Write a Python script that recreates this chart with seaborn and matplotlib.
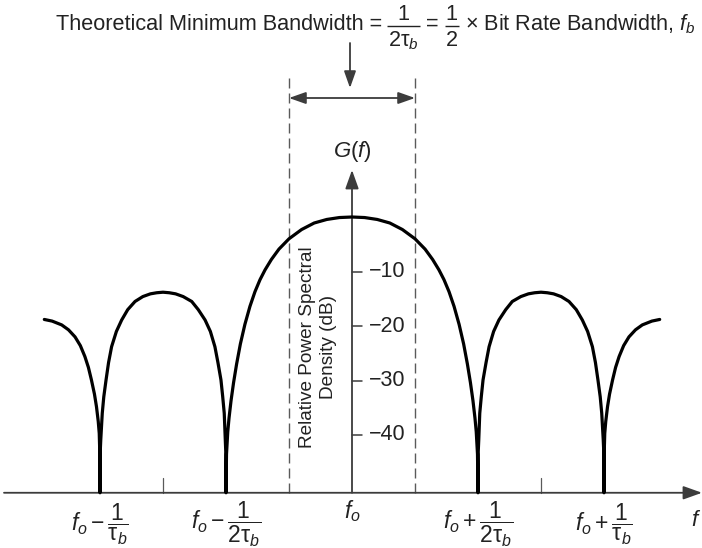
import matplotlib
matplotlib.use("Agg")
import matplotlib.pyplot as plt
import seaborn as sns
import pandas as pd

# ---------------- data ----------------
# frequency offset from f_o, in units of 1/tau_b
freq_offset = [
    -1.221, -1.190, -1.152, -1.125, -1.099, -1.078, -1.060, -1.046, -1.034,
    -1.022, -1.014, -1.007, -1.003, -1.001, -1.000,
    -0.999, -0.997, -0.991, -0.985, -0.976, -0.966, -0.954, -0.935, -0.914,
    -0.890, -0.861, -0.830, -0.800, -0.775, -0.750, -0.725, -0.700, -0.670,
    -0.636, -0.610, -0.583, -0.562, -0.544, -0.532, -0.520, -0.513, -0.507,
    -0.503, -0.501, -0.500,
    -0.498, -0.493, -0.488, -0.480, -0.470, -0.458, -0.443, -0.425, -0.405,
    -0.385, -0.365, -0.345, -0.320, -0.290, -0.250, -0.200, -0.150, -0.100,
    -0.050, 0.000,
    0.050, 0.100, 0.150, 0.200, 0.250, 0.290, 0.320, 0.345, 0.365,
    0.385, 0.405, 0.425, 0.443, 0.458, 0.470, 0.480, 0.488, 0.493,
    0.498,
    0.500, 0.501, 0.503, 0.507, 0.513, 0.520, 0.532, 0.544, 0.562,
    0.583, 0.610, 0.636, 0.670, 0.700, 0.725, 0.750, 0.775, 0.800,
    0.830, 0.861, 0.890, 0.914, 0.935, 0.954, 0.966, 0.976, 0.985,
    0.991, 0.997, 0.999,
    1.000, 1.001, 1.003, 1.007, 1.014, 1.022, 1.034, 1.046, 1.060,
    1.078, 1.099, 1.125, 1.152, 1.190, 1.221,
]
# relative power spectral density, dB
psd_db = [
    -18.8, -19.1, -19.8, -20.7, -22.0, -23.6, -25.6, -27.6, -29.9,
    -32.5, -34.8, -37.5, -39.7, -43.0, -50.6,
    -43.0, -40.9, -36.0, -33.0, -29.9, -26.7, -23.8, -21.0, -18.9,
    -17.0, -15.5, -14.6, -14.1, -13.9, -13.8, -13.9, -14.1, -14.6,
    -15.5, -17.0, -18.9, -21.0, -23.8, -26.7, -29.9, -33.0, -36.0,
    -40.9, -43.0, -50.6,
    -43.5, -39.4, -36.9, -33.7, -30.4, -27.0, -23.3, -19.7, -16.4,
    -13.7, -11.5, -9.7, -7.8, -5.9, -4.0, -2.3, -1.1, -0.45,
    -0.1, 0.0,
    -0.1, -0.45, -1.1, -2.3, -4.0, -5.9, -7.8, -9.7, -11.5,
    -13.7, -16.4, -19.7, -23.3, -27.0, -30.4, -33.7, -36.9, -39.4,
    -43.5,
    -50.6, -43.0, -40.9, -36.0, -33.0, -29.9, -26.7, -23.8, -21.0,
    -18.9, -17.0, -15.5, -14.6, -14.1, -13.9, -13.8, -13.9, -14.1,
    -14.6, -15.5, -17.0, -18.9, -21.0, -23.8, -26.7, -29.9, -33.0,
    -36.0, -40.9, -43.0,
    -50.6, -43.0, -39.7, -37.5, -34.8, -32.5, -29.9, -27.6, -25.6,
    -23.6, -22.0, -20.7, -19.8, -19.1, -18.8,
]
db_ticks = [-10, -20, -30, -40]
db_tick_labels = ["\u221210", "\u221220", "\u221230", "\u221240"]
freq_ticks = [-1.0, -0.5, 0.0, 0.5, 1.0]
freq_tick_labels = [
    r"$f_o - \dfrac{1}{\mathrm{\tau}_b}$",
    r"$f_o - \dfrac{1}{2\mathrm{\tau}_b}$",
    r"$f_o$",
    r"$f_o + \dfrac{1}{2\mathrm{\tau}_b}$",
    r"$f_o + \dfrac{1}{\mathrm{\tau}_b}$",
]
minor_marks = [-0.75, 0.75]
band_edges = [-0.25, 0.25]
axis_floor_db = -50.6
title_lead = "Theoretical Minimum Bandwidth ="
title_frac1 = ("1", r"$2\mathrm{\tau}_b$")
title_frac2 = ("1", "2")
title_tail = r"$\times$ Bit Rate Bandwidth, $f_b$"
ylabel_text = "Relative Power Spectral\nDensity (dB)"

# ---------------- style ----------------
sns.set_theme(style="white")
plt.rcParams["font.family"] = ["Liberation Sans", "DejaVu Sans"]
plt.rcParams["mathtext.fontset"] = "custom"
plt.rcParams["mathtext.rm"] = "Liberation Sans"
plt.rcParams["mathtext.it"] = "Liberation Sans:italic"
plt.rcParams["mathtext.bf"] = "Liberation Sans:bold"
plt.rcParams["mathtext.sf"] = "Liberation Sans"

W, H = 702, 548
fig = plt.figure(figsize=(W / 100, H / 100), dpi=100)
ax = fig.add_axes([0, 0, 1, 1])
renderer = fig.canvas.get_renderer()

X0, Y0, SX, SY = 352.0, 217.0, 252.0, 5.45


def px(x, y):
    return ((x - X0) / SX, -(y - Y0) / SY)


ax.set_xlim(px(0, 0)[0], px(W, 0)[0])
ax.set_ylim(px(0, H)[1], px(0, 0)[1])
ax.axis("off")

AX_COL = "#3c3c3c"
GRAY = "#5a5a5a"
TXT = "#222222"

# curve
df = pd.DataFrame({"f": freq_offset, "G": psd_db})
sns.lineplot(data=df, x="f", y="G", sort=False, estimator=None, color="black",
             linewidth=2.3, ax=ax, zorder=5)
ax.get_lines()[-1].set_solid_joinstyle("round")
ax.get_lines()[-1].set_solid_capstyle("round")

# horizontal (frequency) axis with arrow
x_left = px(4, 0)[0]
x_right = px(702, 0)[0]
ax.annotate("", xy=(x_right, axis_floor_db), xytext=(x_left, axis_floor_db),
            arrowprops=dict(arrowstyle="-|>,head_length=0.95,head_width=0.34",
                            color=AX_COL, lw=1.3, shrinkA=0, shrinkB=0))
# vertical axis with arrow
ax.annotate("", xy=(0, px(0, 170)[1]), xytext=(0, axis_floor_db),
            arrowprops=dict(arrowstyle="-|>,head_length=0.95,head_width=0.34",
                            color=AX_COL, lw=1.3, shrinkA=0, shrinkB=0))
ax.text(*px(352, 152), r"$G(f)$", ha="center", va="center", fontsize=16,
        color=TXT)

# dB ticks
for d, lab in zip(db_ticks, db_tick_labels):
    ax.plot([0, 10 / SX], [d, d], color=AX_COL, lw=1.1)
    ax.text(17 / SX, d, lab, ha="left", va="center", fontsize=15.5, color=TXT)

# small frequency marks
for m in minor_marks:
    ax.plot([m, m], [axis_floor_db, px(0, 478)[1]], color=GRAY, lw=0.9)

# dashed bandwidth lines
for e in band_edges:
    ax.plot([e, e], [axis_floor_db, px(0, 78)[1]], color=GRAY, lw=1.0,
            dashes=(7.2, 3.6))

# double-headed arrow for bandwidth
ax.annotate("", xy=(band_edges[1], px(0, 98)[1]),
            xytext=(band_edges[0], px(0, 98)[1]),
            arrowprops=dict(arrowstyle="<|-|>,head_length=0.85,head_width=0.3",
                            color=AX_COL, lw=1.3, shrinkA=0, shrinkB=0))
# down arrow from the title
ax.annotate("", xy=px(350, 88), xytext=px(350, 43),
            arrowprops=dict(arrowstyle="-|>,head_length=0.85,head_width=0.3",
                            color=AX_COL, lw=1.3, shrinkA=0, shrinkB=0))

# ---- title, laid out piece by piece ----
TF = 15.6


def put(xp, yp, s, ha="left"):
    return ax.text(*px(xp, yp), s, ha=ha, va="baseline", fontsize=TF,
                   color=TXT)


def right_edge(t):
    return t.get_window_extent(renderer).x1


def fraction(xp, num, den):
    d = put(xp, 46, den)
    bb = d.get_window_extent(renderer)
    w = bb.x1 - bb.x0
    put(xp + w / 2, 20, num, ha="center")
    y_bar = px(0, 26)[1]
    ax.plot([px(xp - 1, 0)[0], px(xp + w + 1, 0)[0]], [y_bar, y_bar],
            color=TXT, lw=1.0, solid_capstyle="butt")
    return xp + w + 1


t = put(56, 30, title_lead)
xr = right_edge(t) + 6
xr = fraction(xr, *title_frac1)
t = put(xr + 6, 30, "=")
xr = right_edge(t) + 7
xr = fraction(xr, *title_frac2)
put(xr + 6, 30, title_tail)

# rotated axis label
ax.text(*px(318, 347), ylabel_text, rotation=90, ha="center", va="center",
        fontsize=13.7, linespacing=1.32, multialignment="center", color=TXT)

# frequency labels
for pos, lab in zip(freq_ticks, freq_tick_labels):
    yy = px(0, 511)[1] if pos == 0 else px(0, 524)[1]
    ax.text(pos, yy, lab, ha="center", va="center", fontsize=16.5, color=TXT)
ax.text(*px(701, 521), r"$f$", ha="right", va="center", fontsize=16,
        color=TXT)

fig.savefig("out.png", dpi=100)
